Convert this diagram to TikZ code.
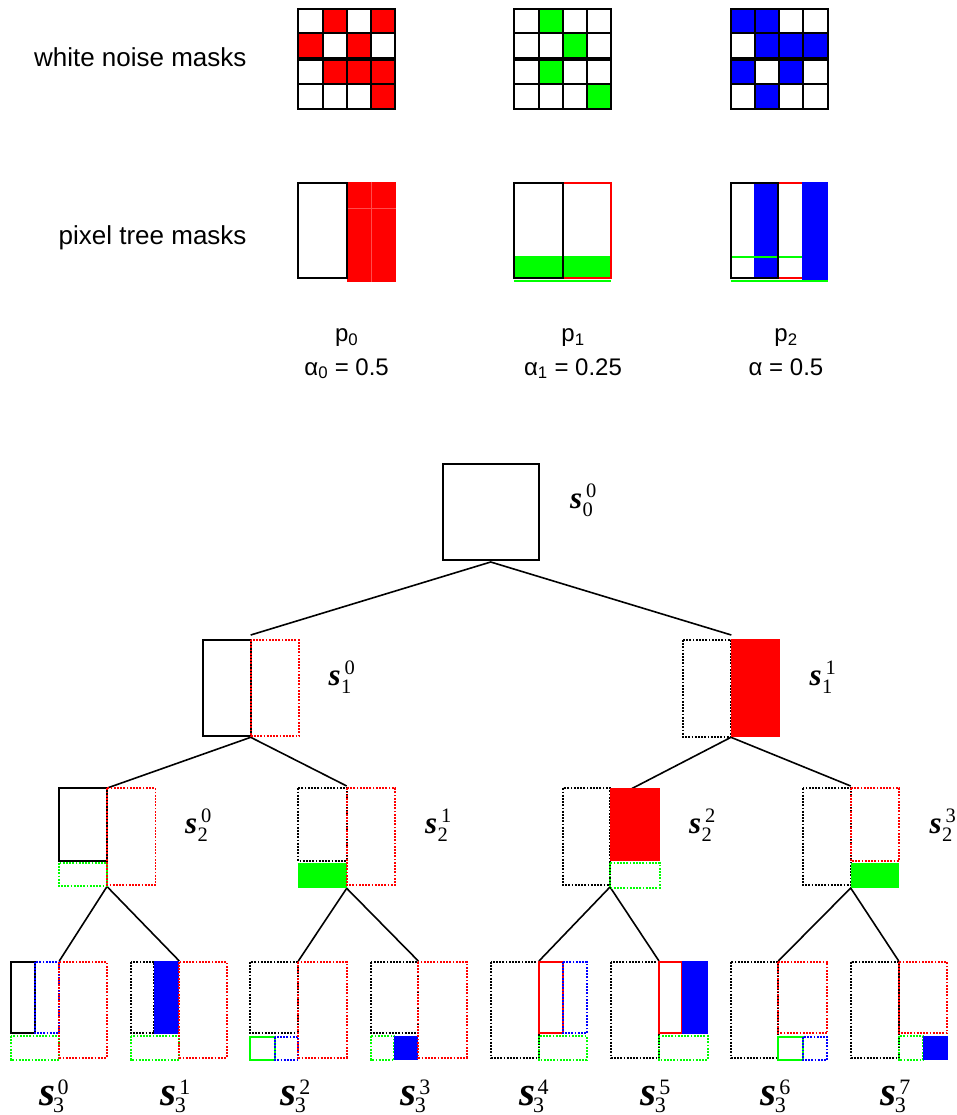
\documentclass[tikz,border=0pt]{standalone}
\usepackage{fontspec}
\setmainfont{Liberation Serif}
\newfontfamily\labelsans{Liberation Sans}

% tree-node labels: bold italic s with stacked super/subscript
\newcommand{\uplab}[2]{%
  \rlap{\fontsize{31}{31}\selectfont\bfseries\itshape s}%
  \rlap{\kern16pt\raisebox{11pt}{\fontsize{20.5}{20}\selectfont #1}}%
  \kern12.5pt\raisebox{-8pt}{\fontsize{20.5}{20}\selectfont #2}}
\newcommand{\lowlab}[2]{%
  \rlap{\fontsize{41}{41}\selectfont\bfseries\itshape s}%
  \rlap{\kern18.5pt\raisebox{11pt}{\fontsize{22}{22}\selectfont #1}}%
  \kern14pt\raisebox{-6.5pt}{\fontsize{22}{22}\selectfont #2}}

% one 4x4 white-noise mask: two stacked 4x2 blocks
\newcommand{\noisegrid}[3]{%
  \foreach \c/\yy in {#3}
    \fill[#2] ({#1+\c*24.2},\yy) rectangle ++(24.2,24.3);
  \foreach \c in {0,...,3}
    \foreach \yy in {9,33.3,60,84.3}
      \draw[gridcell] ({#1+\c*24.2},\yy) rectangle ++(24.2,24.3);
}

\begin{document}
\begin{tikzpicture}[x=1pt,y=-1pt,
  solidbox/.style={line width=2pt},
  dotbox/.style={line width=1.8pt, dash pattern=on 1.8pt off 1.4pt},
  treeline/.style={line width=1.6pt},
  gridcell/.style={line width=2pt},
  caption/.style={font={\labelsans\fontsize{26}{30}\selectfont}, inner sep=0pt},
  pcaption/.style={font={\labelsans\fontsize{24}{30}\selectfont}, inner sep=0pt, anchor=base},
  vlabel/.style={inner sep=0pt, anchor=base west},
]
\useasboundingbox (0,0) rectangle (957,1115);

% ---------- row captions ----------
\node[caption, anchor=base east] (wn) at (246.7,67) {white noise masks};
\node[caption, anchor=base east] (pt) at (246.7,244) {pixel tree masks};

% ---------- white noise masks ----------
\noisegrid{298.3}{red}{1/9, 3/9, 0/33.3, 2/33.3, 1/60, 2/60, 3/60, 3/84.3}
\noisegrid{514.3}{green}{1/9, 2/33.3, 1/60, 3/84.3}
\noisegrid{730.7}{blue}{0/9, 1/9, 1/33.3, 2/33.3, 3/33.3, 0/60, 2/60, 1/84.3}

% ---------- pixel tree masks ----------
% p0
\fill[red] (347,181.7) rectangle (395.7,281.7);
\draw[red!70!white, line width=0.6pt] (347,208.3) -- (395.7,208.3)
      (371,181.7) -- (371,281.7);
\draw[solidbox] (298.3,182.7) rectangle (347,278.3);
% p1
\fill[green] (514.3,256) rectangle (611,279.3);
\draw[green, line width=1.2pt] (514.3,281) -- (611,281);
\draw[solidbox, red] (563,182.7) rectangle (611,278.3);
\draw[solidbox] (514.3,182.7) rectangle (563,278.3);
% p2
\draw[solidbox, red] (778.3,182.7) rectangle (826,278.3);
\fill[blue] (754.3,181.7) rectangle (778.3,278.3);
\fill[blue] (802.3,181.7) rectangle (827.7,280);
\draw[green, line width=1.2pt] (730.7,257) -- (802.3,257);
\draw[green, line width=1.2pt] (730.7,281) -- (827.7,281);
\draw[solidbox] (730.7,182.7) rectangle (778.3,278.3);

% ---------- mask captions ----------
\node[pcaption] (p0) at (346.6,341.7) {p\textsubscript{0}};
\node[pcaption] (a0) at (346.6,375) {α\textsubscript{0} = 0.5};
\node[pcaption] (p1) at (573,341.7) {p\textsubscript{1}};
\node[pcaption] (a1) at (573,375) {α\textsubscript{1} = 0.25};
\node[pcaption] (p2) at (786,341.7) {p\textsubscript{2}};
\node[pcaption] (a2) at (786,375) {α = 0.5};

% ---------- tree: attachment points ----------
\coordinate (b00) at (490.7,562);
\coordinate (t10) at (250.7,635);   \coordinate (t11) at (731.3,635);
\coordinate (b10) at (250.7,737.3); \coordinate (b11) at (731,737.3);
\coordinate (t20) at (107.3,788);   \coordinate (t21) at (346.7,786);
\coordinate (t22) at (632,788.5);   \coordinate (t23) at (850.7,786);
\coordinate (b20) at (107,886.5);   \coordinate (b21) at (346.7,888.3);
\coordinate (b22) at (610,887);     \coordinate (b23) at (850.7,888);
\coordinate (t30) at (59.3,961);    \coordinate (t31) at (179.3,961);
\coordinate (t32) at (298.3,961);   \coordinate (t33) at (418.3,961);
\coordinate (t34) at (539,961);     \coordinate (t35) at (659,961);
\coordinate (t36) at (778.3,961);   \coordinate (t37) at (898.7,961);

% ---------- tree: connectors ----------
\draw[treeline] (t10) -- (b00) -- (t11);
\draw[treeline] (t20) -- (b10) -- (t21);
\draw[treeline] (t22) -- (b11) -- (t23);
\draw[treeline] (t30) -- (b20) -- (t31);
\draw[treeline] (t32) -- (b21) -- (t33);
\draw[treeline] (t34) -- (b22) -- (t35);
\draw[treeline] (t36) -- (b23) -- (t37);

% ---------- level 0 ----------
\draw[solidbox] (442.7,464) rectangle (539,560);

% ---------- level 1 ----------
\draw[solidbox] (202.7,640) rectangle (250.7,736);
\draw[dotbox, red] (250.7,640) rectangle (299,736);
\draw[dotbox] (682.7,640) rectangle (731,736.7);
\fill[red] (731,639) rectangle (780,737);

% ---------- level 2 ----------
\begin{scope}[shift={(59,788.3)}]
  \draw[solidbox] (0,0) rectangle (48,72.4);
  \draw[dotbox, green] (0,74.4) rectangle (48,98);
  \draw[dotbox, red] (48,0) rectangle (96.4,96.7);
\end{scope}
\begin{scope}[shift={(298.3,788.3)}]
  \draw[dotbox] (0,0) rectangle (48.4,72.4);
  \fill[green] (0,74.4) rectangle (48.4,100);
  \draw[dotbox, red] (48.4,0) rectangle (96.7,96.7);
\end{scope}
\begin{scope}[shift={(562.7,788.3)}]
  \draw[dotbox] (0,0) rectangle (47.3,96.7);
  \fill[red] (47.3,-0.6) rectangle (97,73);
  \draw[dotbox, green] (47.3,74.4) rectangle (97,99.4);
\end{scope}
\begin{scope}[shift={(802.7,788.3)}]
  \draw[dotbox] (0,0) rectangle (48,96.7);
  \draw[dotbox, red] (48,0) rectangle (96.6,72.4);
  \fill[green] (48,74.4) rectangle (96.6,100);
\end{scope}

% ---------- level 3 ----------
\begin{scope}[shift={(10.7,961.7)}]
  \draw[solidbox] (0,0) rectangle (24.3,71.6);
  \draw[dotbox, blue] (24.3,0) rectangle (48.6,71.6);
  \draw[dotbox, green] (0,74.3) rectangle (48.6,98.3);
  \draw[dotbox, red] (48.6,0) rectangle (96,96);
\end{scope}
\begin{scope}[shift={(130.7,961.7)}]
  \draw[dotbox] (0,0) rectangle (23.3,71.6);
  \fill[blue] (23.3,-0.7) rectangle (48.6,72.3);
  \draw[dotbox, green] (0,74.3) rectangle (48.6,98.3);
  \draw[dotbox, red] (48.6,0) rectangle (96,96);
\end{scope}
\begin{scope}[shift={(250,961.7)}]
  \draw[dotbox] (0,0) rectangle (48.3,71.6);
  \draw[solidbox, green] (0,75) rectangle (25,98.3);
  \draw[dotbox, blue] (25,75) rectangle (48.3,98.3);
  \draw[dotbox, red] (48.3,0) rectangle (96.7,96);
\end{scope}
\begin{scope}[shift={(370.7,961.7)}]
  \draw[dotbox] (0,0) rectangle (47.6,71.6);
  \draw[dotbox, green] (0,74.3) rectangle (23.6,98.3);
  \fill[blue] (23.6,74.3) rectangle (47.6,98.3);
  \draw[dotbox, red] (47.6,0) rectangle (96,96);
\end{scope}
\begin{scope}[shift={(490.7,961.7)}]
  \draw[dotbox] (0,0) rectangle (48.3,96);
  \draw[solidbox, red] (48.3,0) rectangle (72.3,71.6);
  \draw[dotbox, blue] (72.3,0) rectangle (96,71.6);
  \draw[dotbox, green] (48.3,74.3) rectangle (96,98.3);
\end{scope}
\begin{scope}[shift={(610.7,961.7)}]
  \draw[dotbox] (0,0) rectangle (48.3,96);
  \draw[solidbox, red] (48.3,0) rectangle (71.6,71.6);
  \fill[blue] (71.6,-0.7) rectangle (97,72.3);
  \draw[dotbox, green] (48.3,74.3) rectangle (97,98.3);
\end{scope}
\begin{scope}[shift={(730.7,961.7)}]
  \draw[dotbox] (0,0) rectangle (47.6,96);
  \draw[dotbox, red] (47.6,0) rectangle (96.6,71.6);
  \draw[solidbox, green] (47.6,75) rectangle (72,98.3);
  \draw[dotbox, blue] (72,75) rectangle (96.6,98.3);
\end{scope}
\begin{scope}[shift={(850.7,961.7)}]
  \draw[dotbox] (0,0) rectangle (48,96);
  \draw[dotbox, red] (48,0) rectangle (96,71.6);
  \draw[dotbox, green] (48,74.3) rectangle (72,98.3);
  \fill[blue] (72,74.3) rectangle (97.6,98.3);
\end{scope}

% ---------- tree labels ----------
\node[vlabel] (l00) at (570,508)   {\uplab{0}{0}};
\node[vlabel] (l10) at (328.3,685) {\uplab{0}{1}};
\node[vlabel] (l11) at (809.3,685) {\uplab{1}{1}};
\node[vlabel] (l20) at (185,833)   {\uplab{0}{2}};
\node[vlabel] (l21) at (425,833)   {\uplab{1}{2}};
\node[vlabel] (l22) at (689,833)   {\uplab{2}{2}};
\node[vlabel] (l23) at (929.3,833) {\uplab{3}{2}};
\node[vlabel] (l30) at (39,1105.5)    {\lowlab{0}{3}};
\node[vlabel] (l31) at (160.7,1105.5) {\lowlab{1}{3}};
\node[vlabel] (l32) at (280.7,1105.5) {\lowlab{2}{3}};
\node[vlabel] (l33) at (400.7,1105.5) {\lowlab{3}{3}};
\node[vlabel] (l34) at (519,1105.5)   {\lowlab{4}{3}};
\node[vlabel] (l35) at (640.7,1105.5) {\lowlab{5}{3}};
\node[vlabel] (l36) at (760.7,1105.5) {\lowlab{6}{3}};
\node[vlabel] (l37) at (880.7,1105.5) {\lowlab{7}{3}};
\end{tikzpicture}
\end{document}
